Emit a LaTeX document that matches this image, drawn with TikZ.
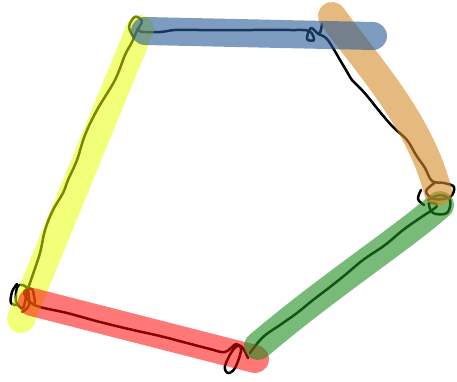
\documentclass[tikz,border=0pt]{standalone}
\definecolor{hlyellow}{RGB}{230,255,0}
\definecolor{hlred}{RGB}{255,0,0}
\definecolor{hlgreen}{RGB}{30,140,30}
\definecolor{hlorange}{RGB}{214,140,40}
\definecolor{hlblue}{RGB}{40,90,150}
\begin{document}
\begin{tikzpicture}[x=1pt,y=-1pt,
  marker/.style={line width=28pt,line cap=round,draw opacity=#1},
  ink/.style={line width=2.5pt,line cap=round,line join=round}]
\useasboundingbox (0,0) rectangle (457,381);
% pen strokes
\draw[ink] plot[smooth,tension=0.6] coordinates {
(134,38) (129,27) (135,17) (142,21) (139,31) (160,32) (175,30)
(200,30) (250,30) (290,30) (309,31) (314,40) (307,39) (311,28) (319,34) (322,24)
};
\draw[ink] plot[smooth,tension=0.6] coordinates {
(318,34) (326,38) (333,48) (340,60) (346,70) (352,80) (360,88)
(368,97) (380,112) (393,127) (407,140) (416,155) (425,168) (432,181)
(444,183) (454,187) (450,197) (434,199) (426,191) (436,182)
};
\draw[ink] plot[smooth,tension=0.6] coordinates {
(421,190) (418,199) (424,205)
};
\draw[ink] plot[smooth,tension=0.6] coordinates {
(428,200) (440,195) (450,200) (447,213) (433,213) (429,203) (437,206)
(420,218) (403,230) (385,245) (363,260) (345,275) (330,287)
(313,300) (297,313) (280,325) (263,337) (250,353)
};
\draw[ink] plot[smooth,tension=0.6] coordinates {
(248,358) (241,346) (233,350) (225,366) (228,373) (235,368) (241,350)
(236,344) (225,352) (210,349) (187,343) (160,336) (133,330) (100,322)
(67,313) (40,307) (30,302) (24,292) (32,289) (35,303)
};
\draw[ink] plot[smooth,tension=0.6] coordinates {
(138,28) (132,42) (125,55) (115,80) (97,110) (85,135) (77,160)
(68,180) (63,193) (53,210) (45,230) (40,253) (32,277) (27,292)
(23,308) (16,301) (18,286) (27,288) (29,305) (22,312)
};
\draw[ink] plot[smooth,tension=0.6] coordinates {
(17,284) (12,292) (11,303) (18,305)
};
% highlighter strokes
\draw[marker=0.53,hlyellow] (140,29) -- (21,319);
\draw[marker=0.53,hlred] (32,302) -- (255,359);
\draw[marker=0.6,hlgreen] (440,205) .. controls (400,240) and (330,285) .. (258,346);
\draw[marker=0.6,hlorange] (332,16) .. controls (365,62) and (420,120) .. (438,192);
\draw[marker=0.6,hlblue] (145,31) -- (373,36);
\end{tikzpicture}
\end{document}
